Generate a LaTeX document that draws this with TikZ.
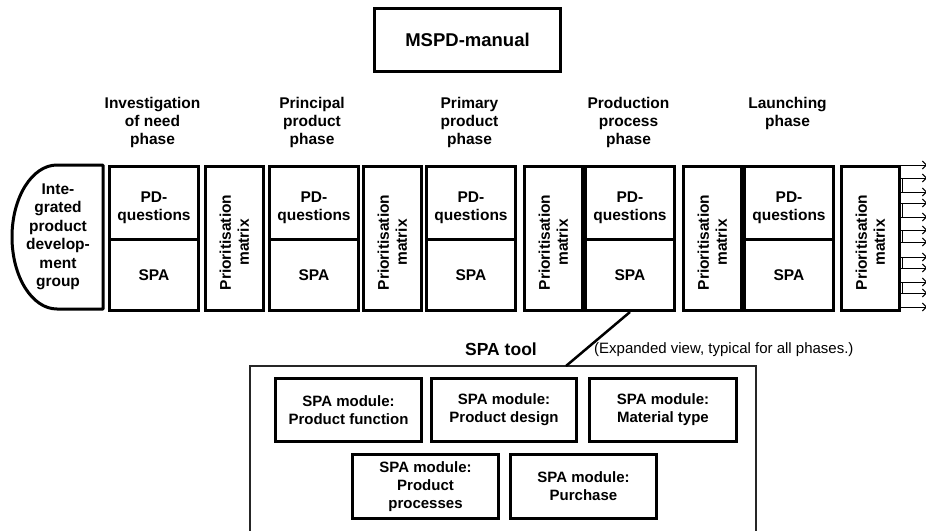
\documentclass[tikz,border=0pt]{standalone}
\usepackage{fontspec}
\setmainfont{Liberation Sans}
\usetikzlibrary{arrows.meta}
\begin{document}
\begin{tikzpicture}[x=1pt,y=-1pt,
  box/.style={draw, line width=3pt, inner sep=0pt, anchor=north west},
  lbl/.style={font=\bfseries\fontsize{15.5}{18}\selectfont, align=center, inner sep=0pt},
  modtext/.style={font=\bfseries\fontsize{15}{18}\selectfont, align=center, inner sep=0pt},
  outlet/.style={line width=1pt, -{Straight Barb[length=4pt,width=8pt]}}]
\useasboundingbox (0,0) rectangle (926,530);

% manual on top
\node[box, minimum width=186pt, minimum height=63pt] (mspd) at (373,7) {};
\node[font=\bfseries\fontsize{18.5}{22}\selectfont, inner sep=0pt] (mspdt) at (mspd.center) {MSPD-manual};

% phase headings
\foreach \i/\cx/\t in {1/152.5/{Investigation\\of need\\phase},
                       2/312/{Principal\\product\\phase},
                       3/469.5/{Primary\\product\\phase},
                       4/628.5/{Production\\process\\phase},
                       5/787.5/{Launching\\phase}}
  \node[lbl, anchor=north] (ph\i) at (\cx,97) {\t};

% integrated product development group
\draw[line width=3pt, line join=round] (103,165) -- (57,165)
  arc[start angle=270, end angle=90, x radius=45, y radius=72] -- (103,309) -- cycle;
\node[lbl, font=\bfseries\fontsize{15.5}{18.5}\selectfont] (grp) at (58,237)
  {Inte-\\grated\\product\\develop-\\ment\\group};

% phase columns: PD-questions / SPA and prioritisation matrix
\foreach \i/\px/\mx in {1/108/204, 2/268/362, 3/425/523, 4/584/682, 5/743/840} {
  \node[box, minimum width=89pt, minimum height=73pt] (pq\i) at (\px,165) {};
  \node[lbl] (pqt\i) at ([yshift=-5pt]pq\i.center) {PD-\\questions};
  \node[box, minimum width=89pt, minimum height=71pt] (sp\i) at (\px,238) {};
  \node[lbl] (spt\i) at (sp\i.center) {SPA};
  \node[box, minimum width=57.5pt, minimum height=144pt] (pm\i) at (\mx,165) {};
  \node[lbl, rotate=90] (pmt\i) at ([yshift=-4pt]pm\i.center) {Prioritisation\\matrix};
}

% outlets leaving the last matrix
\foreach \y in {0,13,27,38,52,65,77,92,103,117,128,142}
  \draw[outlet] ([yshift=-\y pt]pm5.north east) -- ++(26.5,0);
\foreach \a/\b in {13/27,38/52,65/77,92/103,117/128}
  \draw[line width=1pt] ([xshift=2pt,yshift=-\a pt]pm5.north east) -- ([xshift=2pt,yshift=-\b pt]pm5.north east);

% expanded SPA tool
\draw[line width=1.2pt, black!85] (250,531) -- (250,366) -- (756,366) -- (756,531);
\coordinate (conn) at (566,366);
\draw[line width=2.5pt] (sp4.south) -- (conn);
\node[font=\bfseries\fontsize{17.5}{20}\selectfont, inner sep=0pt] (tool) at (501,349) {SPA tool};
\node[font=\fontsize{15}{18}\selectfont, inner sep=0pt, anchor=west] (note) at (594,350)
  {(Expanded view, typical for all phases.)};

\node[box, minimum width=146pt, minimum height=63pt] (m1) at (274,377) {};
\node[box, minimum width=145pt, minimum height=63pt] (m2) at (430,377) {};
\node[box, minimum width=147pt, minimum height=63pt] (m3) at (588,377) {};
\node[box, minimum width=146pt, minimum height=64pt] (m4) at (351,453) {};
\node[box, minimum width=146pt, minimum height=64pt] (m5) at (509,453) {};
\node[modtext] (m1t) at (m1.center) {SPA module:\\Product function};
\node[modtext] (m2t) at (m2.center) {SPA module:\\Product design};
\node[modtext] (m3t) at (m3.center) {SPA module:\\Material type};
\node[modtext] (m4t) at (m4.center) {SPA module:\\Product\\processes};
\node[modtext] (m5t) at (m5.center) {SPA module:\\Purchase};
\end{tikzpicture}
\end{document}
